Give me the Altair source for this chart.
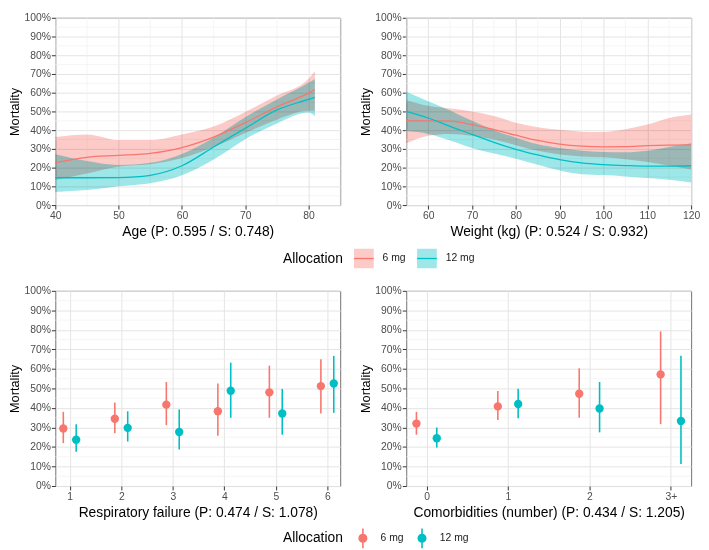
import altair as alt
import pandas as pd

FONT = "Liberation Sans"
ALLOCATION = ["6 mg", "12 mg"]
PALETTE = ["#F8766D", "#00BFC4"]
RIBBON = ["#FCCBC7", "#9EE7E9"]

# ---- Age panel (smoothed mortality, %) ----
AGE_X = [40, 45, 50, 55, 60, 65, 70, 75, 80, 81]
AGE_6_EST = [22.6, 25.5, 26.5, 27.6, 30.7, 36.3, 44.0, 52.4, 59.8, 61.6]
AGE_6_LO = [13.4, 16.8, 20.6, 21.8, 25.1, 31.0, 38.5, 45.6, 50.3, 50.3]
AGE_6_HI = [36.3, 37.7, 34.7, 34.7, 37.7, 41.9, 49.7, 58.5, 67.5, 71.5]
AGE_12_EST = [14.6, 14.6, 14.7, 15.9, 21.0, 31.0, 41.0, 50.8, 56.4, 57.5]
AGE_12_LO = [7.0, 8.0, 10.0, 11.7, 15.9, 24.3, 35.2, 43.6, 49.4, 47.4]
AGE_12_HI = [27.1, 23.5, 21.4, 22.6, 27.3, 36.0, 46.9, 56.4, 65.3, 67.3]
AGE_MAJOR = [40, 50, 60, 70, 80]
AGE_MINOR = [45, 55, 65, 75, 85]

# ---- Weight panel ----
WT_X = [55, 60, 65, 70, 75, 80, 85, 90, 95, 100, 105, 110, 115, 120]
WT_6_EST = [45.0, 45.0, 44.8, 43.0, 40.3, 37.3, 34.5, 32.6, 31.5, 31.1, 31.2, 31.7, 32.0, 32.2]
WT_6_LO = [33.0, 37.0, 38.0, 37.0, 35.0, 32.0, 29.0, 27.0, 26.0, 25.5, 24.5, 23.0, 21.0, 19.0]
WT_6_HI = [56.0, 53.0, 51.5, 50.0, 47.5, 44.0, 41.5, 40.2, 39.2, 39.0, 40.5, 43.0, 46.5, 48.3]
WT_12_EST = [50.0, 46.5, 42.0, 37.8, 33.5, 29.8, 26.8, 24.3, 22.5, 21.6, 21.1, 20.8, 20.8, 21.0]
WT_12_LO = [39.5, 38.0, 34.5, 30.5, 27.5, 24.8, 21.5, 18.5, 16.5, 16.0, 15.3, 14.5, 13.5, 12.0]
WT_12_HI = [60.5, 55.5, 50.5, 45.0, 40.0, 36.0, 32.5, 30.5, 29.0, 28.3, 28.2, 29.0, 31.0, 33.0]
WT_MAJOR = [60, 70, 80, 90, 100, 110, 120]
WT_MINOR = [55, 65, 75, 85, 95, 105, 115]

# ---- Respiratory failure panel ----
RESP_CATS = ["1", "2", "3", "4", "5", "6"]
RESP_6_EST = [29.5, 34.5, 41.7, 38.3, 48.0, 51.2]
RESP_6_LO = [22.0, 27.0, 31.2, 25.8, 35.0, 37.2]
RESP_6_HI = [38.0, 42.8, 53.3, 52.5, 61.7, 65.0]
RESP_12_EST = [23.7, 29.8, 27.7, 48.8, 37.2, 52.5]
RESP_12_LO = [17.5, 22.8, 18.7, 35.0, 26.3, 37.5]
RESP_12_HI = [31.7, 38.3, 39.2, 63.2, 49.7, 66.7]

# ---- Comorbidities panel ----
COMORB_CATS = ["0", "1", "2", "3+"]
COMORB_6_EST = [32.0, 40.8, 47.3, 57.2]
COMORB_6_LO = [26.3, 33.8, 35.0, 31.7]
COMORB_6_HI = [38.0, 48.7, 60.3, 79.2]
COMORB_12_EST = [24.5, 42.0, 39.7, 33.3]
COMORB_12_LO = [19.7, 34.7, 27.5, 11.3]
COMORB_12_HI = [30.0, 49.8, 53.3, 66.7]

Y_MAJOR = [0, 10, 20, 30, 40, 50, 60, 70, 80, 90, 100]
Y_MINOR = [5, 15, 25, 35, 45, 55, 65, 75, 85, 95]

MAJOR_GRID = "#E4E4E4"
MINOR_GRID = "#F1F1F1"
W = 289


def long_df(x, e6, l6, h6, e12, l12, h12):
    rows = []
    for alloc, e, l, h in [("6 mg", e6, l6, h6), ("12 mg", e12, l12, h12)]:
        for i, (xi, ei, li, hi) in enumerate(zip(x, e, l, h)):
            rows.append(dict(x=xi, idx=i, est=ei, lo=li, hi=hi, Allocation=alloc))
    return pd.DataFrame(rows)


def y_axis():
    return alt.Axis(values=Y_MAJOR, labelExpr="datum.value + '%'", title="Mortality",
                    labelFlush=False, gridColor=MAJOR_GRID, gridWidth=1)


y_scale = alt.Scale(domain=[0, 100], nice=False, zero=False)
line_scale = alt.Scale(domain=ALLOCATION, range=PALETTE)
ribbon_scale = alt.Scale(domain=ALLOCATION, range=RIBBON)

TOP_SYMBOL = "M-1,0H1V-1H-1V1H1V0"
BOTTOM_SYMBOL = ("M-0.08,-1H0.08V1H-0.08Z "
                 "M-0.46,0A0.46,0.46 0 1,1 0.46,0A0.46,0.46 0 1,1 -0.46,0Z")


def legend(symbol, y, top):
    kw = dict(
        title="Allocation",
        orient="none",
        legendX=231,
        legendY=y,
        direction="horizontal",
        titleOrient="left",
        titleAnchor="middle",
        titleBaseline="middle",
        titlePadding=10,
        symbolType=symbol,
        symbolSize=400,
        labelOffset=8,
        columnPadding=8,
    )
    if top:
        kw.update(symbolDash=[20, 400], symbolStrokeWidth=1.3)
    else:
        kw.update(symbolStrokeWidth=0)
    return alt.Legend(**kw)


def minor_y():
    return alt.Chart(pd.DataFrame({"v": Y_MINOR})).mark_rule(
        color=MINOR_GRID, strokeWidth=0.7
    ).encode(y=alt.Y("v:Q", scale=y_scale, axis=y_axis()))


def smooth_panel(df, xlo, xhi, major, minor, title, h):
    lg = legend(TOP_SYMBOL, 233, True)
    x_scale = alt.Scale(domain=[xlo, xhi], nice=False, zero=False)
    x_axis = alt.Axis(values=major, title=title, labelFlush=False,
                      gridColor=MAJOR_GRID, gridWidth=1)
    minor_x = alt.Chart(pd.DataFrame({"v": minor})).mark_rule(
        color=MINOR_GRID, strokeWidth=0.7
    ).encode(x=alt.X("v:Q", scale=x_scale, axis=x_axis))
    band = alt.Chart(df).mark_area(blend="multiply", interpolate="monotone").encode(
        x=alt.X("x:Q", scale=x_scale, axis=x_axis),
        y=alt.Y("lo:Q", scale=y_scale, axis=y_axis()),
        y2="hi:Q",
        fill=alt.Fill("Allocation:N", scale=ribbon_scale, legend=lg, sort=ALLOCATION),
    )
    line = alt.Chart(df).mark_line(strokeWidth=1.3, interpolate="monotone").encode(
        x=alt.X("x:Q", scale=x_scale, axis=x_axis),
        y=alt.Y("est:Q", scale=y_scale, axis=y_axis()),
        stroke=alt.Stroke("Allocation:N", scale=line_scale, legend=lg, sort=ALLOCATION),
    )
    return alt.layer(minor_y(), minor_x, band, line).properties(width=W, height=h)


def dot_panel(df, cats, first, dom, title, h):
    lg = legend(BOTTOM_SYMBOL, 241, False)
    x_scale = alt.Scale(domain=dom, nice=False, zero=False)
    label_lookup = "[" + ",".join("'" + c + "'" for c in cats) + "]"
    x_axis = alt.Axis(
        values=[first + i for i in range(len(cats))],
        labelExpr=f"{label_lookup}[datum.value - {first}]",
        title=title,
        labelFlush=False,
        gridColor=MAJOR_GRID,
        gridWidth=1,
    )
    base = alt.Chart(df).transform_calculate(
        xpos=f"datum.idx + {first} + (datum.Allocation === '6 mg' ? -0.125 : 0.125)"
    )
    pts = base.mark_circle(size=72, opacity=1).encode(
        x=alt.X("xpos:Q", scale=x_scale, axis=x_axis),
        y=alt.Y("est:Q", scale=y_scale, axis=y_axis()),
        color=alt.Color("Allocation:N", scale=line_scale, legend=lg, sort=ALLOCATION),
    )
    bars = base.mark_rule(strokeWidth=1.6).encode(
        x=alt.X("xpos:Q", scale=x_scale, axis=x_axis),
        y=alt.Y("lo:Q", scale=y_scale, axis=y_axis()),
        y2="hi:Q",
        color=alt.Color("Allocation:N", scale=line_scale, legend=lg, sort=ALLOCATION),
    )
    return alt.layer(minor_y(), pts, bars).properties(width=W, height=h)


age_df = long_df(AGE_X, AGE_6_EST, AGE_6_LO, AGE_6_HI, AGE_12_EST, AGE_12_LO, AGE_12_HI)
wt_df = long_df(WT_X, WT_6_EST, WT_6_LO, WT_6_HI, WT_12_EST, WT_12_LO, WT_12_HI)
resp_df = long_df(RESP_CATS, RESP_6_EST, RESP_6_LO, RESP_6_HI, RESP_12_EST, RESP_12_LO, RESP_12_HI)
com_df = long_df(COMORB_CATS, COMORB_6_EST, COMORB_6_LO, COMORB_6_HI,
                 COMORB_12_EST, COMORB_12_LO, COMORB_12_HI)

top = alt.hconcat(
    smooth_panel(age_df, 40, 85, AGE_MAJOR, AGE_MINOR, "Age (P: 0.595 / S: 0.748)", 190),
    smooth_panel(wt_df, 55, 120, WT_MAJOR, WT_MINOR, "Weight (kg) (P: 0.524 / S: 0.932)", 190),
    spacing=18,
)
bottom = alt.hconcat(
    dot_panel(resp_df, RESP_CATS, 1, [0.72, 6.25], "Respiratory failure (P: 0.474 / S: 1.078)", 198),
    dot_panel(com_df, COMORB_CATS, 0, [-0.25, 3.25], "Comorbidities (number) (P: 0.434 / S: 1.205)", 198),
    spacing=18,
)

chart = alt.vconcat(top, bottom, spacing=14).resolve_scale(
    fill="independent", stroke="independent", color="independent"
).configure(
    padding=0,
    background="white",
).configure_axis(
    labelFont=FONT,
    titleFont=FONT,
    labelFontSize=10.5,
    titleFontSize=14,
    titleFontWeight="normal",
    labelColor="#4D4D4D",
    titleColor="#000000",
    domain=False,
    tickColor="#333333",
    tickSize=4,
    tickWidth=1,
    labelPadding=1.5,
    titlePadding=4,
).configure_axisY(
    titleFontSize=13,
    titlePadding=2,
    labelPadding=1,
).configure_view(
    stroke="#707070",
    strokeWidth=1,
).configure_legend(
    labelFont=FONT,
    titleFont=FONT,
    labelFontSize=10.5,
    titleFontSize=14,
    titleFontWeight="normal",
    labelColor="#1a1a1a",
    titleColor="#000000",
    padding=0,
)

chart.save("out.html", embed_options={"renderer": "svg", "actions": False})
